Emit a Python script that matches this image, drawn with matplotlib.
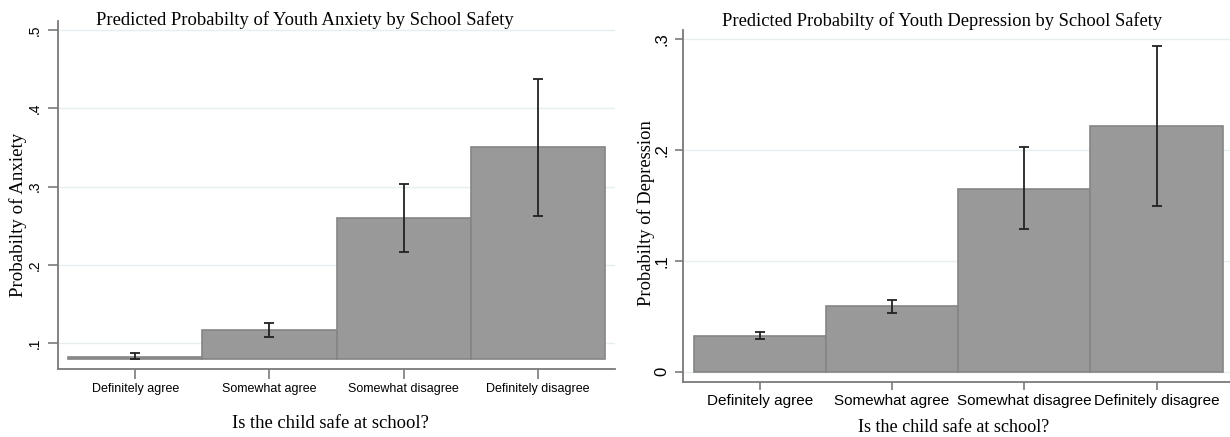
import matplotlib
matplotlib.use("Agg")
import matplotlib.pyplot as plt
import numpy as np

categories = ['Definitely agree', 'Somewhat agree', 'Somewhat disagree', 'Definitely disagree']

anx = [0.083, 0.117, 0.260, 0.350]
anx_lo = [0.080, 0.108, 0.216, 0.263]
anx_hi = [0.087, 0.126, 0.304, 0.437]

dep = [0.032, 0.059, 0.165, 0.222]
dep_lo = [0.0297, 0.053, 0.129, 0.150]
dep_hi = [0.0355, 0.065, 0.2025, 0.294]

anx_ticks = [0.1, 0.2, 0.3, 0.4, 0.5]
anx_ticklabels = ['.1', '.2', '.3', '.4', '.5']
dep_ticks = [0.0, 0.1, 0.2, 0.3]
dep_ticklabels = ['0', '.1', '.2', '.3']

W, H = 1230, 437
fig = plt.figure(figsize=(W / 100, H / 100), dpi=100)

serif = 'Liberation Serif'
sans = 'Liberation Sans'
bar_face = '#999999'
bar_edge = '#858585'
spine_col = '#7a7a7a'
grid_col = '#e6eef0'


def px_axes(l, t, r, b):
    return fig.add_axes([l / W, 1 - b / H, (r - l) / W, (b - t) / H])


def draw(ax, vals, lo, hi, base, ylim, xlim, ticks, ticklabels, xfs, yfs, ticklen, ypad):
    x = np.arange(1, len(vals) + 1)
    heights = [v - base for v in vals]
    ax.bar(x, heights, width=1.0, bottom=base, color=bar_face, edgecolor=bar_edge,
           linewidth=1.2, zorder=2)
    yerr = [[v - l for v, l in zip(vals, lo)], [h - v for v, h in zip(vals, hi)]]
    ax.errorbar(x, vals, yerr=yerr, fmt='none', ecolor='#222222', elinewidth=1.3,
                capsize=3.5, capthick=1.3, zorder=3)
    ax.set_xlim(*xlim)
    ax.set_ylim(*ylim)
    ax.set_xticks(x)
    ax.set_xticklabels(categories, fontfamily=sans, fontsize=xfs)
    ax.set_yticks(ticks)
    ax.set_yticklabels(ticklabels, fontfamily=sans, fontsize=yfs, rotation=90, va='center')
    for t in ticks:
        ax.axhline(t, color=grid_col, linewidth=1.0, zorder=1)
    for s in ['top', 'right']:
        ax.spines[s].set_visible(False)
    for s in ['left', 'bottom']:
        ax.spines[s].set_color(spine_col)
        ax.spines[s].set_linewidth(1.3)
    ax.tick_params(axis='both', colors=spine_col, length=ticklen, width=1.2, labelcolor='black')
    ax.tick_params(axis='x', pad=3)
    ax.tick_params(axis='y', pad=ypad)


# Left panel
ax1 = px_axes(58, 21, 615, 369)
draw(ax1, anx, anx_lo, anx_hi, 0.08, (0.0672, 0.5115), (0.425, 4.575),
     anx_ticks, anx_ticklabels, 9, 10, 7, 5)
fig.text(305 / W, 1 - 20 / H, 'Predicted Probabilty of Youth Anxiety by School Safety',
         fontfamily=serif, fontsize=13.4, ha='center', va='center')
fig.text(18 / W, 1 - 215 / H, 'Probabilty of Anxiety', fontfamily=serif, fontsize=13.6,
         rotation=90, ha='center', va='center')
fig.text(330 / W, 1 - 423 / H, 'Is the child safe at school?', fontfamily=serif, fontsize=13.4,
         ha='center', va='center')

# Right panel
ax2 = px_axes(683, 30, 1230, 382)
draw(ax2, dep, dep_lo, dep_hi, 0.0, (-0.0093, 0.3084), (0.42, 4.555),
     dep_ticks, dep_ticklabels, 11, 12, 6, 4)
fig.text(942 / W, 1 - 21 / H, 'Predicted Probabilty of Youth Depression by School Safety',
         fontfamily=serif, fontsize=13.3, ha='center', va='center')
fig.text(646 / W, 1 - 213 / H, 'Probabilty of Depression', fontfamily=serif, fontsize=13.3,
         rotation=90, ha='center', va='center')
fig.text(954 / W, 1 - 428 / H, 'Is the child safe at school?', fontfamily=serif, fontsize=13.1,
         ha='center', va='center')

fig.savefig('out.png', dpi=100)
